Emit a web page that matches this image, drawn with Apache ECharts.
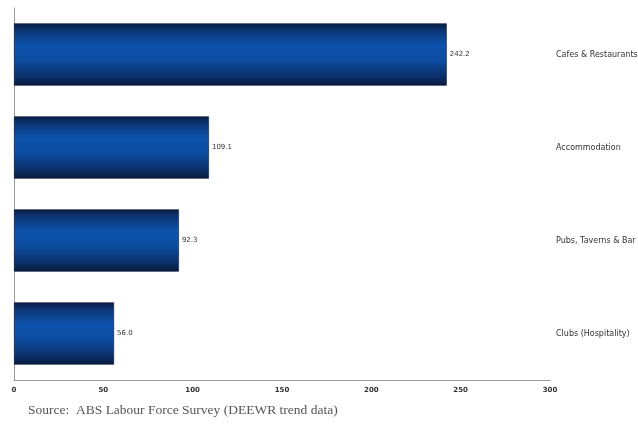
<!DOCTYPE html>
<html><head><meta charset="utf-8">
<script src="https://cdn.jsdelivr.net/npm/echarts@6/dist/echarts.min.js"></script>
<style>html,body{margin:0;padding:0;background:#fff}#c{width:638px;height:424px}</style>
</head><body><div id="c"></div>
<script>
const categories = ["Cafes & Restaurants", "Accommodation", "Pubs, Taverns & Bar", "Clubs (Hospitality)"];
const values = [242.2, 109.1, 92.3, 56.0];
const xTicks = [0, 50, 100, 150, 200, 250, 300];
const sourceText = "Source:  ABS Labour Force Survey (DEEWR trend data)";

const chart = echarts.init(document.getElementById('c'));
const barGrad = new echarts.graphic.LinearGradient(0, 0, 0, 1, [
  {offset: 0, color: '#0a1c42'},
  {offset: 0.12, color: '#0b3676'},
  {offset: 0.35, color: '#0d52ac'},
  {offset: 0.6, color: '#0c4c9f'},
  {offset: 0.85, color: '#0a306a'},
  {offset: 1, color: '#081a3c'}
]);
chart.setOption({
  animation: false,
  grid: {left: 14, right: 88, top: 8, bottom: 44, containLabel: false, outerBoundsMode: 'none'},
  xAxis: {
    type: 'value', min: xTicks[0], max: xTicks[xTicks.length - 1], interval: 50,
    axisLine: {show: true, lineStyle: {color: '#999', width: 1}},
    axisTick: {show: false},
    splitLine: {show: false},
    axisLabel: {color: '#333', fontSize: 7, fontFamily: 'DejaVu Sans', fontWeight: 'bold', margin: 7}
  },
  yAxis: [{
    type: 'category', data: categories, inverse: true, position: 'left',
    axisLine: {show: true, lineStyle: {color: '#999', width: 1}},
    axisTick: {show: false},
    axisLabel: {show: false}
  }, {
    type: 'category', data: categories, inverse: true, position: 'right',
    axisLine: {show: false}, axisTick: {show: false},
    axisLabel: {show: true, align: 'left', margin: 6, color: '#333', fontSize: 8, fontFamily: 'DejaVu Sans'}
  }],
  series: [{
    type: 'bar', data: values, yAxisIndex: 0, barCategoryGap: '33%',
    itemStyle: {color: barGrad, borderColor: '#0a1a38', borderWidth: 0.6},
    label: {show: true, position: 'right', distance: 3, color: '#333', fontSize: 7, fontFamily: 'DejaVu Sans',
      formatter: p => p.value.toFixed(1)}
  }],
  graphic: [{
    type: 'text', left: 28, top: 403,
    style: {text: sourceText, fill: '#555', font: '13.5px "Liberation Serif"'}
  }]
});
</script></body></html>
